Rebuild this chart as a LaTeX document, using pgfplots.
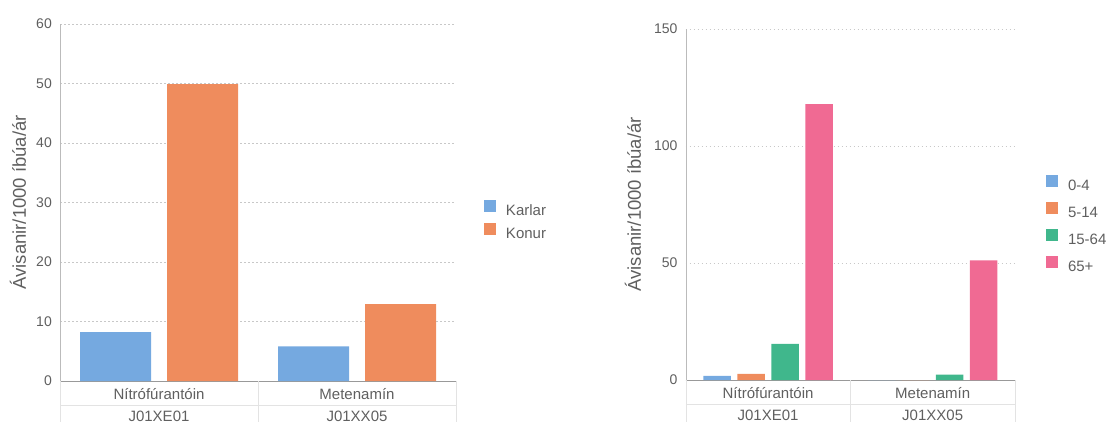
\documentclass[border=0pt]{standalone}
\usepackage{fontspec}
\setmainfont{Liberation Sans}
\usepackage{pgfplots}
\pgfplotsset{compat=1.18}
\usetikzlibrary{calc}
\definecolor{cBlue}{HTML}{75A9E0}
\definecolor{cOrange}{HTML}{EF8C5D}
\definecolor{cGreen}{HTML}{40B78C}
\definecolor{cPink}{HTML}{F06A93}
\definecolor{txt}{HTML}{5F5F5F}
\definecolor{gridc}{HTML}{C8C8C8}
\definecolor{sepc}{HTML}{E3E3E3}
\definecolor{axc}{HTML}{999999}
\definecolor{yaxc}{HTML}{BBBBBB}
\pgfplotsset{
  sq legend/.style={legend image code/.code={\fill[##1] (0pt,-0.5pt) rectangle (12pt,11.5pt);}},
  common/.style={
    scale only axis,
    ymin=0,
    xmin=-0.5, xmax=1.5,
    xtick={0,1},
    xticklabels={Nítrófúrantóin,Metenamín},
    extra x ticks={0,1},
    extra x tick labels={J01XE01,J01XX05},
    extra x tick style={grid=none, xticklabel style={yshift=-22pt}},
    axis lines*=left,
    x axis line style={draw=axc},
    y axis line style={draw=yaxc},
    tick style={draw=none},
    major tick length=0pt,
    ymajorgrids,
    major grid style={gridc, dash pattern=on 1.5pt off 2.5pt},
    /pgf/number format/assume math mode=true,
    yticklabel style={font=\fontsize{14}{16}\selectfont, text=txt, inner sep=0pt, anchor=east, xshift=-8pt},
    xticklabel style={font=\fontsize{15}{18}\selectfont, text=txt, inner sep=0pt, anchor=center, text height=11pt, text depth=0pt, yshift=-12.5pt},
    every axis y label/.style={rotate=90, anchor=center, font=\fontsize{18.5}{20}\selectfont, text=txt},
    ylabel={Ávisanir/1000 íbúa/ár},
    legend style={draw=none, fill=none, inner sep=0pt, outer sep=0pt, anchor=north west,
      font=\fontsize{15}{18}\selectfont, text=txt,
      nodes={inner sep=0pt, text height=11pt, text depth=3pt}, column sep=10pt},
    legend cell align=left,
    clip=false,
  }
}
\begin{document}
\begin{tikzpicture}
% Left chart
\begin{axis}[common,
  at={(60pt,-381pt)}, anchor=south west,
  width=396pt, height=357pt,
  ymax=60, ytick={0,10,20,30,40,50,60},
  ybar=16pt, bar width=71pt,
  every axis y label/.append style={at={(axis description cs:-0.106,0.5)}},
  legend style={at={(1.0707,0.507)}, row sep=4pt},
]
\addplot[fill=cBlue, draw=none, sq legend] coordinates {(0,8.2) (1,5.8)};
\addplot[fill=cOrange, draw=none, sq legend] coordinates {(0,49.9) (1,12.9)};
\legend{Karlar,Konur}
\draw[sepc] (rel axis cs:0,0) -- ++(0pt,-45pt);
\draw[sepc] (rel axis cs:0.5,0) -- ++(0pt,-45pt);
\draw[sepc] (rel axis cs:1,0) -- ++(0pt,-45pt);
\draw[sepc] ($(rel axis cs:0,0)+(0pt,-24pt)$) -- ($(rel axis cs:1,0)+(0pt,-24pt)$);
\end{axis}
% Right chart
\begin{axis}[common,
  at={(685.7pt,-380pt)}, anchor=south west,
  width=329.3pt, height=351pt,
  ymax=150, ytick={0,50,100,150},
  ybar=6.5pt, bar width=27.5pt,
  every axis y label/.append style={at={(axis description cs:-0.16,0.5)}},
  legend style={at={(1.0942,0.583)}, row sep=8.5pt},
]
\addplot[fill=cBlue, draw=none, sq legend] coordinates {(0,1.8) (1,0)};
\addplot[fill=cOrange, draw=none, sq legend] coordinates {(0,2.6) (1,0)};
\addplot[fill=cGreen, draw=none, sq legend] coordinates {(0,15.4) (1,2.3)};
\addplot[fill=cPink, draw=none, sq legend] coordinates {(0,117.9) (1,51.1)};
\legend{0-4,5-14,15-64,65+}
\draw[sepc] (rel axis cs:0,0) -- ++(0pt,-45pt);
\draw[sepc] (rel axis cs:0.5,0) -- ++(0pt,-45pt);
\draw[sepc] (rel axis cs:1,0) -- ++(0pt,-45pt);
\draw[sepc] ($(rel axis cs:0,0)+(0pt,-24pt)$) -- ($(rel axis cs:1,0)+(0pt,-24pt)$);
\end{axis}
\pgfresetboundingbox
\useasboundingbox (0pt,0pt) rectangle (1114pt,-422pt);
\end{tikzpicture}
\end{document}
